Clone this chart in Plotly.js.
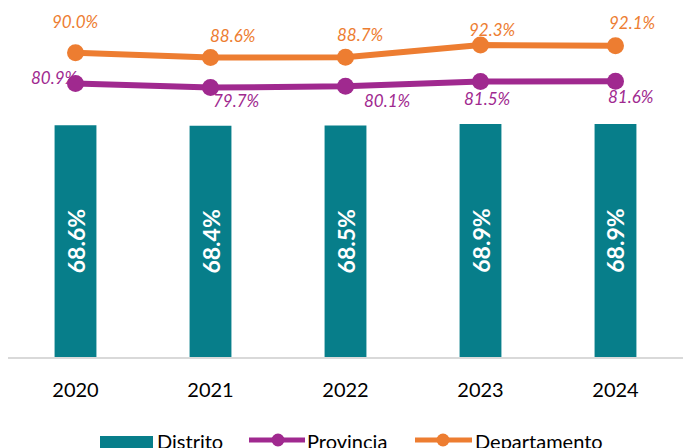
<!DOCTYPE html>
<html>
<head>
<meta charset="utf-8">
<script src="https://cdn.plot.ly/plotly-3.0.1.min.js"></script>
<style>html,body{margin:0;padding:0;background:#fff;overflow:hidden;}#chart{width:683px;height:448px;}</style>
</head>
<body>
<div id="chart"></div>
<script>
const years = ['2020', '2021', '2022', '2023', '2024'];
const distrito = [68.6, 68.4, 68.5, 68.9, 68.9];
const provincia = [80.9, 79.7, 80.1, 81.5, 81.6];
const departamento = [90.0, 88.6, 88.7, 92.3, 92.1];
const seriesNames = ['Distrito', 'Provincia', 'Departamento'];

// label offsets (pixels) for data labels
const depShiftX = [0, 22, 15, 12, 17];
const depShiftY = [31, 22, 23, 16, 23];
const provShiftX = [-21, 26, 42, 7, 15];
const provShiftY = [6, -13, -14, -17, -15];

const FONT = 'Lato, "Open Sans", sans-serif';
const teal = '#077E8A';
const purple = '#A0298F';
const orange = '#ED7D31';

const W = 683, H = 448;
const M = {l: 8, r: 0, t: 19, b: 91};
const px2x = px => (px - M.l) / (W - M.l - M.r);
const px2y = py => (H - M.b - py) / (H - M.t - M.b);

const fmt = v => v.toFixed(1) + '%';

const traces = [
  {
    type: 'bar', name: seriesNames[0], x: years, y: distrito,
    marker: {color: teal},
    text: distrito.map(fmt), textposition: 'inside', insidetextanchor: 'middle',
    textangle: -90, constraintext: 'none',
    textfont: {family: FONT, size: 23, color: '#ffffff', weight: 'bold'},
    hoverinfo: 'skip'
  },
  {
    type: 'scatter', mode: 'lines+markers', name: seriesNames[1], x: years, y: provincia,
    line: {color: purple, width: 6}, marker: {color: purple, size: 17},
    hoverinfo: 'skip'
  },
  {
    type: 'scatter', mode: 'lines+markers', name: seriesNames[2], x: years, y: departamento,
    line: {color: orange, width: 6}, marker: {color: orange, size: 17},
    hoverinfo: 'skip'
  }
];

const annotations = [];
years.forEach((yr, i) => {
  annotations.push({x: i, y: departamento[i], text: fmt(departamento[i]), showarrow: false,
    xref: 'x', yref: 'y', xshift: depShiftX[i], yshift: depShiftY[i],
    font: {family: FONT, size: 17, color: orange, style: 'italic'}});
  annotations.push({x: i, y: provincia[i], text: fmt(provincia[i]), showarrow: false,
    xref: 'x', yref: 'y', xshift: provShiftX[i], yshift: provShiftY[i],
    font: {family: FONT, size: 17, color: purple, style: 'italic'}});
});

// manual legend (wide swatches like the original)
const legY = 440;
const shapes = [
  {type: 'rect', xref: 'paper', yref: 'paper', x0: px2x(100), x1: px2x(153), y0: px2y(436), y1: px2y(452),
    fillcolor: teal, line: {width: 0}},
  {type: 'line', xref: 'paper', yref: 'paper', x0: px2x(249), x1: px2x(305), y0: px2y(legY), y1: px2y(legY),
    line: {color: purple, width: 5}},
  {type: 'circle', xref: 'paper', yref: 'paper', x0: px2x(271.5), x1: px2x(284.5), y0: px2y(433.5), y1: px2y(446.5),
    fillcolor: purple, line: {width: 0}},
  {type: 'line', xref: 'paper', yref: 'paper', x0: px2x(415), x1: px2x(472), y0: px2y(legY), y1: px2y(legY),
    line: {color: orange, width: 5}},
  {type: 'circle', xref: 'paper', yref: 'paper', x0: px2x(436.5), x1: px2x(449.5), y0: px2y(433.5), y1: px2y(446.5),
    fillcolor: orange, line: {width: 0}}
];
const legTextX = [155, 305, 473];
seriesNames.forEach((n, i) => {
  annotations.push({xref: 'paper', yref: 'paper', x: px2x(legTextX[i]), y: px2y(441), xanchor: 'left', yanchor: 'middle',
    text: n, showarrow: false, font: {family: FONT, size: 20, color: '#000000'}});
});

const layout = {
  width: W, height: H,
  margin: M,
  paper_bgcolor: '#ffffff', plot_bgcolor: '#ffffff',
  bargap: 0.69,
  showlegend: false,
  xaxis: {type: 'category', range: [-0.5, 4.5], showline: true, linecolor: '#D9D9D9', linewidth: 2,
    ticks: '', showgrid: false, zeroline: false,
    tickfont: {family: FONT, size: 20, color: '#000000'}, ticklabelstandoff: 14},
  yaxis: {range: [0, 100], visible: false, showgrid: false, zeroline: false},
  annotations: annotations,
  shapes: shapes
};

Plotly.newPlot('chart', traces, layout, {staticPlot: true, displayModeBar: false});
</script>
</body>
</html>
